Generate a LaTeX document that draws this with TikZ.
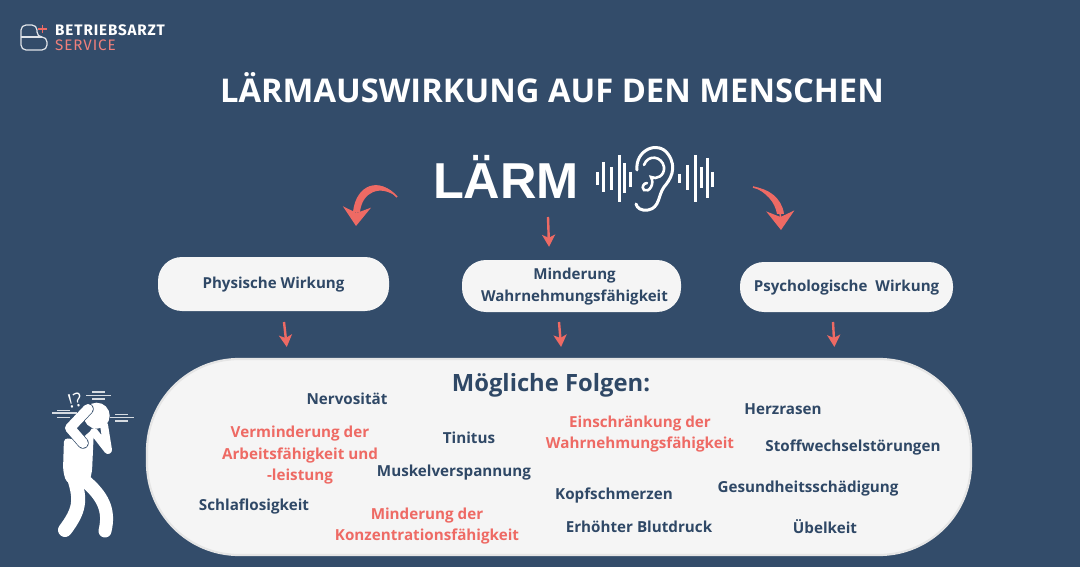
\documentclass[tikz,border=0pt]{standalone}
\usepackage{fontspec}
\setmainfont{Open Sans}
\newfontfamily\larmfont{Liberation Sans}
\newfontfamily\logofont[LetterSpace=6]{Fira Sans}
\usetikzlibrary{arrows.meta,positioning,calc}
\definecolor{bgblue}{HTML}{334C6A}
\definecolor{inkblue}{HTML}{2F4866}
\definecolor{coral}{HTML}{EE6A64}
\definecolor{pillgray}{HTML}{F5F5F5}
\newcommand{\runter}[1]{\raisebox{-2pt}{\begin{tabular}{@{}c@{}}#1\end{tabular}}}
\tikzset{
  wirkung/.style={rectangle, rounded corners=24pt, fill=pillgray, text=inkblue, font=\bfseries\fontsize{15.1}{22}\selectfont, align=center, inner sep=0pt},
  folge/.style={text=inkblue, font=\bfseries\fontsize{15.2}{21.5}\selectfont, align=center, inner sep=0pt, yshift=-1.5pt},
  folgerot/.style={folge, text=coral},
  pfeil/.style={draw=coral, line width=2.4pt, -{Stealth[length=12pt,width=13pt,inset=3pt]}},
  bogen/.style={draw=coral, line width=1.6pt, -{Stealth[length=19pt,width=28pt,inset=6pt]}},
  welle/.style={draw=white, line width=3pt},
  figur/.style={draw=white, line cap=round, line join=round},
  schwing/.style={draw=white!80!bgblue, line width=1.2pt}
}

\begin{document}
\begin{tikzpicture}[x=1pt, y=-1pt, >=Stealth]

% Background
\useasboundingbox (0,0) rectangle (1080,567);
\fill[bgblue] (0,0) rectangle (1080,567);

% Logo
\draw[white!85!bgblue, line width=1.2pt, rounded corners=5pt] (21,37) -- (21,25) -- (37,25) -- (37,37) -- (47,37) -- (47,50) -- (21,50) -- cycle;
\draw[white!85!bgblue, line width=1.2pt] (21,37) -- (42,37);
\draw[coral, line width=1.2pt] (38,29) -- (47,29) (42.5,25) -- (42.5,33);
\node[anchor=west, inner sep=0pt, text=white, font=\logofont\bfseries\fontsize{15.2}{15}\selectfont] (B) at (55,30) {BETRIEBSARZT};
\node[anchor=west, inner sep=0pt, text=coral!85!white, font=\logofont\fontsize{15.2}{15}\selectfont] (S) at (55,45) {SERVICE};

% Title
\node[text=white, inner sep=0pt, font=\bfseries\fontsize{32.7}{33}\selectfont] (T) at (552,88) {LÄRMAUSWIRKUNG AUF DEN MENSCHEN};
\node[text=white, inner sep=0pt, font=\larmfont\bfseries\fontsize{50.5}{51}\selectfont] (L) at (506,177) {LÄRM};

% Sound waves
\foreach \x/\a/\b in {597/172/185, 603/162/192, 611/167/190, 619/155/202, 624/163/193, 630/172/187,
                      679/174/183, 687/165/190, 695/155/202, 701/167/188, 707/158/198, 712/172/187}
  \draw[welle] (\x,\a) -- (\x,\b);

% Ear
\draw[white, line width=3pt, line cap=round] (637,170) .. controls (635,150) and (658,140) .. (668,154)
  .. controls (678,168) and (670,180) .. (664,187) .. controls (658,195) and (660,208) .. (648,210)
  .. controls (641,211) and (637,208) .. (636,204);
\draw[white, line width=2.6pt, line cap=round] (644,165) .. controls (648,154) and (662,156) .. (664,167)
  .. controls (665,176) and (656,180) .. (651,177) .. controls (655,184) and (649,193) .. (644,190)
  .. controls (641,187) and (644,183) .. (647,183);

% Wirkung nodes
\node[wirkung, minimum width=231pt, minimum height=54pt] (P) at (273.5,284) {\runter{Physische Wirkung}};
\node[wirkung, minimum width=219pt, minimum height=52pt] (W) at (571.5,286) {\hspace*{6pt}\runter{Minderung\\Wahrnehmungsfähigkeit}};
\node[wirkung, minimum width=213pt, minimum height=50pt] (Y) at (846.5,287) {\runter{Psychologische\ \ Wirkung}};

% Folgen pill
\node[rectangle, rounded corners=92pt, draw=white!80!gray, line width=2.2pt, fill=pillgray, minimum width=824pt, minimum height=196pt] (F) at (559,457) {};

% Arrow ends
\coordinate (a1) at (397,197);
\coordinate (a2) at (548,217);
\coordinate (a3) at (753,187);
\coordinate (b1) at (284,322);
\coordinate (b2) at (559,322);
\coordinate (b3) at (833,322);
\coordinate (c1) at (356,226);
\coordinate (c3) at (781,230);

% Connections
\fill[coral] (a1) .. controls (380,176) and (356,184) .. (353,212) -- (360,212) .. controls (362,192) and (380,184) .. (a1);
\fill[coral] (a3) .. controls (768,188) and (782,198) .. (784,214) -- (777,214) .. controls (775,202) and (766,192) .. (a3);
\draw[bogen] (a1) .. controls (380,178) and (358,186) .. (c1);
\draw[bogen] (a3) .. controls (768,190) and (780,202) .. (c3);
\draw[pfeil, shorten >=13pt] (a2) -- ([xshift=1.5pt]a2 |- W.north);
\draw[pfeil, shorten >=11pt] (b1) -- ([xshift=4pt]b1 |- F.north);
\draw[pfeil, shorten >=11pt] (b2) -- ([xshift=3pt]b2 |- F.north);
\draw[pfeil, shorten >=11pt] (b3) -- ([xshift=2pt]b3 |- F.north);

% Folgen
\node[folge, font=\bfseries\fontsize{23.8}{24}\selectfont] (H) at (551,384) {Mögliche Folgen:};
\node[folge] (f1) at (347,397) {Nervosität};
\node[folge] (f2) at (469,436) {Tinitus};
\node[folgerot] (f3) at (300,454) {Verminderung der\\Arbeitsfähigkeit und\\-leistung};
\node[folge] (f4) at (454,471) {Muskelverspannung};
\node[folge] (f5) at (254,505) {Schlaflosigkeit};
\node[folgerot] (f6) at (427,524.5) {Minderung der\\Konzentrationsfähigkeit};
\node[folgerot] (f7) at (640,432.5) {Einschränkung der\\Wahrnehmungsfähigkeit};
\node[folge] (f8) at (783,408) {Herzrasen};
\node[folge] (f9) at (853,446) {Stoffwechselstörungen};
\node[folge] (f10) at (808,487) {Gesundheitsschädigung};
\node[folge] (f11) at (614,494) {Kopfschmerzen};
\node[folge] (f12) at (639,525.5) {Erhöhter Blutdruck};
\node[folge] (f13) at (825,525.5) {Übelkeit};

% Person
\fill[white, rounded corners=4pt] (64,438) -- (80,440) -- (94,428) -- (92,472) -- (87,490) -- (66,482) -- (63,470) -- cycle;
\draw[figur, line width=14pt] (74,478) .. controls (81,500) and (80,510) .. (65,530);
\draw[figur, line width=13pt] (84,480) .. controls (103,496) and (110,510) .. (105,531);
\draw[figur, line width=8pt] (94,432) -- (108,450) -- (104,425);
\fill[white] (96.7,415.7) circle (13);
\draw[bgblue, line width=11.4pt, line cap=round, line join=round] (88,409) -- (70,428) -- (83,443);
\draw[figur, line width=10pt] (88,409) -- (70,428) -- (83,443);

% Confusion marks
\node[text=white, inner sep=0pt, rotate=15, font=\fontsize{19}{19}\selectfont] (Q) at (75,400.5) {!\kern1pt?};
\foreach \x/\y/\w in {52/413/25, 57/410.5/13, 57/417.3/13, 110/417.7/24, 115/414.3/13, 115/421/13, 86/395.3/25, 92/392/13, 92/399/13}
  \draw[schwing] (\x,\y) -- ++(\w,0);

\end{tikzpicture}
\end{document}
